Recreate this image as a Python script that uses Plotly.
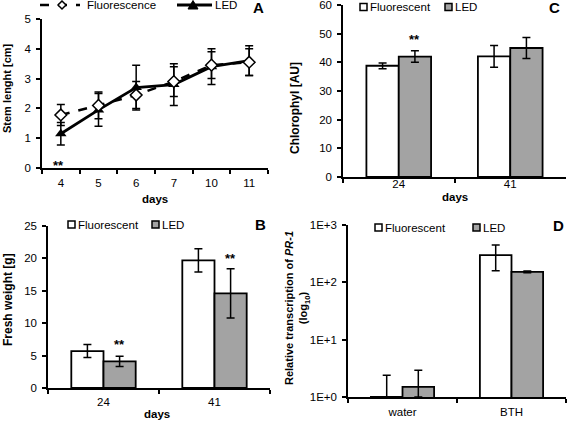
import plotly.graph_objects as go

W, H = 567, 421
def px(x): return x / W
def py(y): return 1 - y / H

FONT = "Liberation Sans, Arial, sans-serif"
GRAY = "#a3a3a3"

# ---------------- data ----------------
stem_days = ["4", "5", "6", "7", "10", "11"]
stem_fluor = [1.78, 2.1, 2.45, 2.9, 3.45, 3.55]
stem_fluor_err = [0.35, 0.45, 0.45, 0.5, 0.45, 0.45]
stem_led = [1.15, 1.95, 2.7, 2.8, 3.4, 3.6]
stem_led_err = [0.38, 0.55, 0.75, 0.7, 0.6, 0.5]

chl_days = ["24", "41"]
chl_fluor = [38.8, 42.1]
chl_fluor_err = [1.0, 3.8]
chl_led = [42.0, 45.0]
chl_led_err = [2.0, 3.7]
chl_ticks = [0, 10, 20, 30, 40, 50, 60]

fw_days = ["24", "41"]
fw_fluor = [5.7, 19.7]
fw_fluor_err = [1.0, 1.8]
fw_led = [4.1, 14.6]
fw_led_err = [0.8, 3.8]

pr_cond = ["water", "BTH"]
pr_fluor = [1.0, 299]
pr_fluor_plus = [1.39, 148]
pr_fluor_minus = [0.0, 140]
pr_led = [1.5, 152]
pr_led_plus = [1.42, 5]
pr_led_minus = [0.5, 5]
pr_tickvals = [1, 10, 100, 1000]
pr_ticktext = ["1E+0", "1E+1", "1E+2", "1E+3"]

fig = go.Figure()

err_style = dict(color="black", thickness=1.5, width=4)

# Panel A
fig.add_trace(go.Scatter(x=stem_days, y=stem_led, mode="lines+markers",
    line=dict(color="black", width=2.8),
    marker=dict(symbol="triangle-up", size=10, color="black"),
    error_y=dict(type="data", array=stem_led_err, **err_style),
    xaxis="x", yaxis="y", showlegend=False))
fig.add_trace(go.Scatter(x=stem_days, y=stem_fluor, mode="lines+markers",
    line=dict(color="black", width=2.5, dash="dash"),
    marker=dict(symbol="diamond", size=9, color="white", line=dict(color="black", width=1.5)),
    error_y=dict(type="data", array=stem_fluor_err, **err_style),
    xaxis="x", yaxis="y", showlegend=False))

bar_line = dict(color="black", width=1.8)
# Panel C
fig.add_trace(go.Bar(x=chl_days, y=chl_fluor, marker=dict(color="white", line=bar_line),
    error_y=dict(type="data", array=chl_fluor_err, **err_style),
    xaxis="x2", yaxis="y2", showlegend=False))
fig.add_trace(go.Bar(x=chl_days, y=chl_led, marker=dict(color=GRAY, line=bar_line),
    error_y=dict(type="data", array=chl_led_err, **err_style),
    xaxis="x2", yaxis="y2", showlegend=False))
# Panel B
fig.add_trace(go.Bar(x=fw_days, y=fw_fluor, marker=dict(color="white", line=bar_line),
    error_y=dict(type="data", array=fw_fluor_err, **err_style),
    xaxis="x3", yaxis="y3", showlegend=False))
fig.add_trace(go.Bar(x=fw_days, y=fw_led, marker=dict(color=GRAY, line=bar_line),
    error_y=dict(type="data", array=fw_led_err, **err_style),
    xaxis="x3", yaxis="y3", showlegend=False))
# Panel D
fig.add_trace(go.Bar(x=pr_cond, y=pr_fluor, marker=dict(color="white", line=bar_line),
    error_y=dict(type="data", symmetric=False, array=pr_fluor_plus, arrayminus=pr_fluor_minus, **err_style),
    xaxis="x4", yaxis="y4", showlegend=False))
fig.add_trace(go.Bar(x=pr_cond, y=pr_led, marker=dict(color=GRAY, line=bar_line),
    error_y=dict(type="data", symmetric=False, array=pr_led_plus, arrayminus=pr_led_minus, **err_style),
    xaxis="x4", yaxis="y4", showlegend=False))

tickfont = dict(family=FONT, size=11.5, color="black")
common_x = dict(type="category", showline=True, linecolor="black", linewidth=1.5,
                ticks="outside", ticklen=4, tickwidth=1.5, tickcolor="black", automargin=False,
                tickson="boundaries", showgrid=False, zeroline=False, tickfont=tickfont,
                ticklabeloverflow="allow")
common_y = dict(showline=True, linecolor="black", linewidth=1.5, automargin=False,
                ticks="outside", ticklen=4, tickwidth=1.5, tickcolor="black",
                showgrid=False, zeroline=False, tickfont=tickfont, ticklabelstandoff=3,
                ticklabeloverflow="allow")

fig.update_layout(
    width=W, height=H, margin=dict(l=0, r=0, t=0, b=0, pad=0, autoexpand=False),
    paper_bgcolor="white", plot_bgcolor="white",
    barmode="group", bargap=0.42, bargroupgap=0,
    font=dict(family=FONT, color="black"),
    xaxis=dict(domain=[px(42), px(268)], anchor="y", range=[-0.5, 5.5], ticklabelstandoff=3, **common_x),
    yaxis=dict(domain=[py(168), py(19)], anchor="x", range=[0, 5], dtick=1, **common_y),
    xaxis2=dict(domain=[px(343), px(566)], anchor="y2", range=[-0.5, 1.5], ticklabelstandoff=-5, **common_x),
    yaxis2=dict(domain=[py(177), py(5)], anchor="x2", range=[0, 60], tickmode="array",
                tickvals=chl_ticks, **common_y),
    xaxis3=dict(domain=[px(48), px(270)], anchor="y3", range=[-0.5, 1.5], ticklabelstandoff=2, **common_x),
    yaxis3=dict(domain=[py(388), py(226)], anchor="x3", range=[0, 25], dtick=5, **common_y),
    xaxis4=dict(domain=[px(348), px(566)], anchor="y4", range=[-0.5, 1.5], ticklabelstandoff=3, **common_x),
    yaxis4=dict(domain=[py(397), py(225)], anchor="x4", type="log", range=[0, 3],
                tickvals=pr_tickvals, ticktext=pr_ticktext, **common_y),
)

ann = []
def text(x, y, s, size=11.5, bold=False, angle=0, xanchor="center"):
    ann.append(dict(x=px(x), y=py(y), xref="paper", yref="paper", text=(f"<b>{s}</b>" if bold else s),
                    showarrow=False, textangle=angle, xanchor=xanchor, yanchor="middle",
                    font=dict(family=FONT, size=size, color="black")))

# axis titles
text(7, 88, "Stem lenght [cm]", size=11, bold=True, angle=-90)
text(295, 108, "Chlorophyl [AU]", size=12, bold=True, angle=-90)
text(8, 300, "Fresh weight [g]", size=12, bold=True, angle=-90)
text(297, 308, "Relative transcription of <i>PR-1</i><br>(log<sub>10</sub>)", size=11, bold=True, angle=-90)
text(155, 199, "days", size=11.5, bold=True)
text(455, 197, "days", size=11.5, bold=True)
text(157, 414, "days", size=11.5, bold=True)

# panel letters
text(258, 7, "A", size=15, bold=True)
text(554, 8, "C", size=15, bold=True)
text(260, 224, "B", size=15, bold=True)
text(558, 225, "D", size=15, bold=True)

# significance marks anchored to data (category index on x)
def star(xref, yref, cats, cat, yval, xshift=0):
    ann.append(dict(x=cats.index(cat), y=yval, xref=xref, yref=yref, text="<b>**</b>", showarrow=False,
                    xshift=xshift, yshift=-3, font=dict(family=FONT, size=13, color="black")))
star("x", "y", stem_days, "4", 0.2, -2)
star("x2", "y2", chl_days, "24", 49, 16)
star("x3", "y3", fw_days, "24", 7.1, 16)
star("x3", "y3", fw_days, "41", 20.4, 16)

shapes = []
# legend A
shapes.append(dict(type="line", xref="paper", yref="paper", x0=px(40), x1=px(80), y0=py(5), y1=py(5),
                   line=dict(color="black", width=2.5, dash="dash")))
def path(points):
    return "M " + " L ".join(f"{px(a)},{py(b)}" for a, b in points) + " Z"
shapes.append(dict(type="path", xref="paper", yref="paper", path=path([(62, 1), (66, 5), (62, 9), (58, 5)]),
                   fillcolor="white", line=dict(color="black", width=1.5)))
text(85, 5, "Fluorescence", size=11.5, xanchor="left")
shapes.append(dict(type="line", xref="paper", yref="paper", x0=px(177), x1=px(212), y0=py(5), y1=py(5),
                   line=dict(color="black", width=2.8)))
shapes.append(dict(type="path", xref="paper", yref="paper", path=path([(193, 0.5), (198, 9), (188, 9)]),
                   fillcolor="black", line=dict(color="black", width=1)))
text(213, 5, "LED", size=11.5, xanchor="left")

def swatch(x, y, color):
    shapes.append(dict(type="rect", xref="paper", yref="paper", x0=px(x), x1=px(x + 7),
                       y0=py(y + 3.5), y1=py(y - 3.5), fillcolor=color, line=dict(color="black", width=1.5)))
for (xf, xl, y) in [(360, 445, 7), (68, 152, 224.5), (375, 473, 227.5)]:
    swatch(xf, y, "white")
    text(xf + 8, y, "Fluorescent", size=11.5, xanchor="left")
    swatch(xl, y, GRAY)
    text(xl + 8, y, "LED", size=11.5, xanchor="left")

fig.update_layout(annotations=ann, shapes=shapes)
fig.write_html("out.html", config={"displayModeBar": False},
               post_script="document.body.style.margin='0';document.body.style.padding='0';")
